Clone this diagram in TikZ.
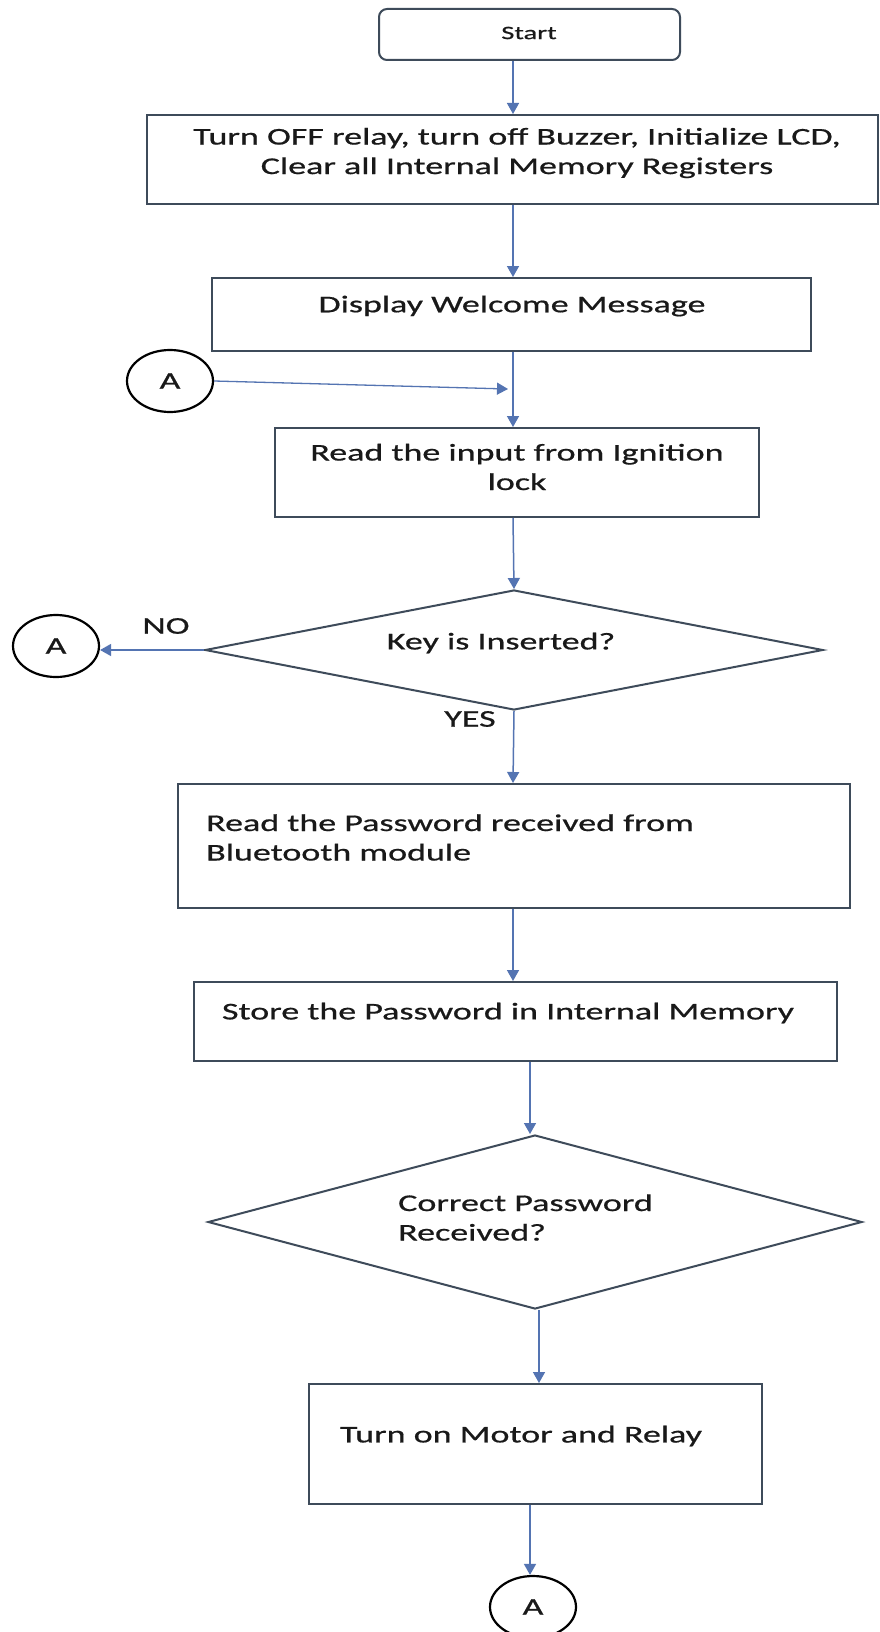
\documentclass[tikz,border=0pt]{standalone}
\usepackage{fontspec}
\setmainfont{Carlito}[FakeStretch=1.5,FakeBold=0.7]
\usetikzlibrary{shapes.geometric,arrows.meta}
\definecolor{edge}{RGB}{62,75,90}
\definecolor{arrowc}{RGB}{84,116,178}
\definecolor{ink}{RGB}{25,25,25}
\begin{document}
\begin{tikzpicture}[x=1pt,y=-1pt,
 box/.style={draw=edge, line width=2pt, rectangle, inner sep=0pt},
 txt/.style={text=ink, font=\fontsize{24}{29.5}\selectfont, inner sep=0pt},
 arr/.style={draw=arrowc, line width=1.5pt, -{Triangle[length=11pt,width=12pt]}},
 conn/.style={draw=black, line width=2.2pt, ellipse, minimum width=86pt, minimum height=62pt, inner sep=0pt, text=ink, font=\fontsize{24}{29}\selectfont},
 dec/.style={draw=edge, line width=2pt, diamond, inner sep=0pt}]
\useasboundingbox[fill=white] (0,0) rectangle (880,1632);

% column coordinates
\coordinate (c1) at (513,0);
\coordinate (c2) at (530,0);
\coordinate (c3) at (539,0);

% Start
\node[box, rounded corners=8pt, minimum width=301pt, minimum height=51pt] (start) at (529.5,34.5) {};
\node[txt, font=\fontsize{19}{23}\selectfont] (startt) at (529,33) {Start};

% Box 1
\node[box, minimum width=731pt, minimum height=89pt] (b1) at (512.5,159.5) {};
\node[txt, align=center] (b1t) at (517,153) {Turn OFF relay, turn off Buzzer, Initialize LCD,\\Clear all Internal Memory Registers};

% Box 2
\node[box, minimum width=599pt, minimum height=73pt] (b2) at (511.5,314.5) {};
\node[txt] (b2t) at (512,306) {Display Welcome Message};

% Connector A1
\node[conn] (a1) at (170,381) {A};
\coordinate (j1) at (508,389);

% Box 3
\node[box, minimum width=484pt, minimum height=89pt] (b3) at (517,472.5) {};
\node[txt, align=center] (b3t) at (517,467) {Read the input from Ignition\\lock};

% Diamond 1
\node[dec, minimum width=618pt, minimum height=120pt] (d1) at (514,650) {};
\node[txt] (d1t) at (501,643) {Key is Inserted?};
\node[conn] (a2) at (56,646) {A};
\node[txt] (no) at (166,626) {NO};
\node[txt] (yes) at (470,719) {YES};

% Box 4
\node[box, minimum width=672pt, minimum height=124pt] (b4) at (514,846) {};
\node[txt, align=left, anchor=west] (b4t) at (206,837.5) {Read the Password received from\\Bluetooth module};

% Box 5
\node[box, minimum width=643pt, minimum height=79pt] (b5) at (515.5,1021.5) {};
\node[txt] (b5t) at (508,1013) {Store the Password in Internal Memory};

% Diamond 2
\node[dec, minimum width=654pt, minimum height=174pt] (d2) at (535,1222) {};
\node[txt, align=left, anchor=west] (d2t) at (398,1217.5) {Correct Password\\Received?};

% Box 6
\node[box, minimum width=453pt, minimum height=120pt] (b6) at (535.5,1444) {};
\node[txt] (b6t) at (521,1436) {Turn on Motor and Relay};

% Connector A3
\node[conn] (a3) at (533,1607) {A};

% Arrows
\draw[arr] (start.south -| c1) -- (b1.north -| c1);
\draw[arr] (b1.south -| c1) -- (b2.north -| c1);
\draw[arr] (b2.south -| c1) -- (b3.north -| c1);
\draw[arr, line width=1.3pt] (a1.east) -- (j1);
\draw[arr] (b3.south -| c1) -- (d1.north);
\draw[arr] (d1.west) -- (d1.west -| a2.east);
\draw[arr] (d1.south) -- (b4.north -| c1);
\draw[arr] (b4.south -| c1) -- (b5.north -| c1);
\draw[arr] (b5.south -| c2) -- (d2.north -| c2);
\draw[arr] (d2.south -| c3) -- (b6.north -| c3);
\draw[arr] (b6.south -| c2) -- (a3.north -| c2);
\end{tikzpicture}
\end{document}
